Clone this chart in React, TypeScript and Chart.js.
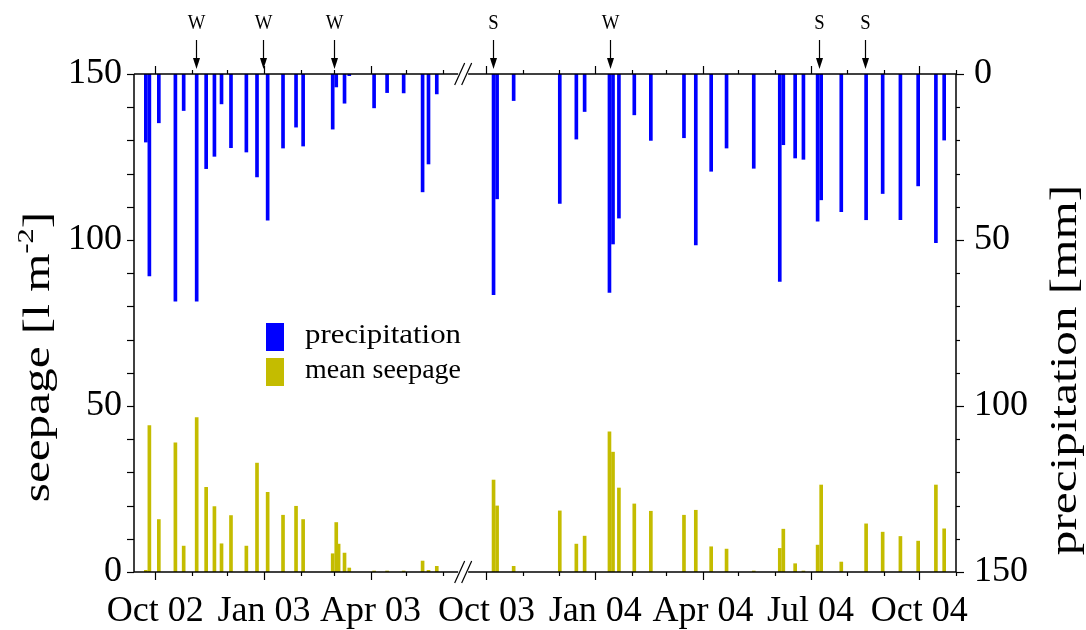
import React, { useEffect, useRef } from 'react';
import { Chart, registerables } from 'chart.js';

Chart.register(...registerables);

// Rain events: date, precipitation [mm] and mean seepage [l m-2]
const eventDates = [
  '2002-09-23', '2002-09-26', '2002-10-04', '2002-10-18', '2002-10-25', '2002-11-05',
  '2002-11-13', '2002-11-20', '2002-11-26', '2002-12-04', '2002-12-17', '2002-12-26',
  '2003-01-04', '2003-01-17', '2003-01-28', '2003-02-03', '2003-02-28', '2003-03-03',
  '2003-03-05', '2003-03-10', '2003-03-14', '2003-04-04', '2003-04-15', '2003-04-29',
  '2003-05-15', '2003-05-20', '2003-05-27',
  '2003-10-07', '2003-10-10', '2003-10-24', '2003-12-02', '2003-12-16', '2003-12-23',
  '2004-01-13', '2004-01-16', '2004-01-21', '2004-02-03', '2004-02-17', '2004-03-16',
  '2004-03-26', '2004-04-08', '2004-04-21', '2004-05-14', '2004-06-05', '2004-06-08',
  '2004-06-18', '2004-06-25', '2004-07-07', '2004-07-10', '2004-07-27', '2004-08-17',
  '2004-08-31', '2004-09-15', '2004-09-30', '2004-10-15', '2004-10-22',
];

const precipitation: (number | null)[] = [
  20.5, 60.8, 14.7, 68.4, 11.0, 68.4,
  28.5, 24.8, 9.0, 22.2, 23.5, 31.0,
  44.0, 22.3, 16.0, 21.7, 16.6, 3.9,
  null, 8.8, 0.5, 10.2, 5.6, 5.7,
  35.5, 27.1, 6.0,
  66.5, 37.6, 8.0, 39.0, 19.6, 11.3,
  65.8, 51.2, 43.4, 12.3, 20.0, 19.2,
  51.5, 29.3, 22.3, 28.4, 62.5, 21.3,
  25.3, 25.7, 44.3, 37.9, 41.5, 43.9,
  36.0, 43.9, 33.7, 50.8, 19.9,
];

const seepage: number[] = [
  0.5, 44.1, 15.8, 38.9, 7.8, 46.5,
  25.5, 19.7, 8.5, 17.0, 7.8, 32.8,
  24.0, 17.1, 19.8, 15.8, 5.5, 14.9,
  8.4, 5.7, 1.2, 0.3, 0.3, 0.3,
  3.3, 0.5, 1.7,
  27.7, 19.9, 1.7, 18.4, 8.4, 10.8,
  42.2, 36.1, 25.3, 20.5, 18.3, 17.1,
  18.6, 7.6, 6.9, 0.3, 7.1, 12.9,
  2.5, 0.3, 8.1, 26.2, 3.0, 14.5,
  12.0, 10.7, 9.3, 26.2, 13.0,
];

// Labelled months on the time axis
const labelDates = ['2002-10-01', '2003-01-01', '2003-04-01', '2003-10-01', '2004-01-01', '2004-04-01', '2004-07-01', '2004-10-01'];
const labelTexts = ['Oct 02', 'Jan 03', 'Apr 03', 'Oct 03', 'Jan 04', 'Apr 04', 'Jul 04', 'Oct 04'];

// Marked events (W = winter, S = summer)
const markerDates = ['2002-11-05', '2003-01-01', '2003-03-02', '2003-10-07', '2004-01-14', '2004-07-09', '2004-08-17'];
const markerTexts = ['W', 'W', 'W', 'S', 'W', 'S', 'S'];

const valueTicks = [0, 50, 100, 150];

const BLUE = '#0000ff';
const OLIVE = '#c4bc00';
const FONT = "'Liberation Serif', 'Times New Roman', serif";

// Time axis: days since the start, with the summer of 2003 cut out
const ORIGIN = Date.UTC(2002, 8, 13);
const DAY = 86400000;
const BREAK_AT = 280;
const BREAK_SKIP = 85;
const AXIS_END = '2004-11-01';

function dayNumber(s: string): number {
  const [y, m, d] = s.split('-').map(Number);
  return Math.round((Date.UTC(y, m - 1, d) - ORIGIN) / DAY);
}

function inGap(n: number): boolean {
  return n > BREAK_AT && n < BREAK_AT + BREAK_SKIP;
}

function axisPos(s: string): number {
  const n = dayNumber(s);
  if (n <= BREAK_AT) return n;
  if (inGap(n)) return BREAK_AT;
  return n - BREAK_SKIP;
}

function monthStarts(): { pos: number; major: boolean }[] {
  const out: { pos: number; major: boolean }[] = [];
  let y = 2002;
  let m = 10;
  while (y < 2004 || (y === 2004 && m <= 11)) {
    const s = `${y}-${String(m).padStart(2, '0')}-01`;
    const n = dayNumber(s);
    if (!inGap(n)) out.push({ pos: axisPos(s), major: (m - 1) % 3 === 0 });
    m += 1;
    if (m > 12) { m = 1; y += 1; }
  }
  return out;
}

// text scaled along its own direction
function wideText(ctx: CanvasRenderingContext2D, text: string, x: number, y: number, sx: number) {
  ctx.save();
  ctx.translate(x, y);
  ctx.scale(sx, 1);
  ctx.fillText(text, 0, 0);
  ctx.restore();
}

const framePlugin = {
  id: 'frame',
  afterDraw(chart: any) {
    const { ctx, chartArea: a, scales } = chart;
    const x = scales.x;
    const yL = scales.y;
    const yR = scales.y1;
    const line = (x1: number, y1: number, x2: number, y2: number) => {
      ctx.beginPath();
      ctx.moveTo(x1, y1);
      ctx.lineTo(x2, y2);
      ctx.stroke();
    };
    ctx.save();
    ctx.strokeStyle = '#000';
    ctx.fillStyle = '#000';

    // frame with a cut in the time axis
    ctx.lineWidth = 1.5;
    const bx = x.getPixelForValue(BREAK_AT) - 2;
    for (const yy of [a.top, a.bottom]) {
      line(a.left, yy, bx - 5, yy);
      line(bx + 5, yy, a.right, yy);
    }
    line(a.left, a.top, a.left, a.bottom);
    line(a.right, a.top, a.right, a.bottom);
    ctx.lineWidth = 1.2;
    for (const yy of [a.top, a.bottom]) {
      for (const off of [-3.5, 3.5]) line(bx + off - 5, yy + 11, bx + off + 5, yy - 11);
    }

    // month ticks, outwards on top and bottom
    ctx.lineWidth = 1.2;
    for (const t of monthStarts()) {
      const px = Math.round(x.getPixelForValue(t.pos)) + 0.5;
      const len = t.major ? 8 : 4;
      line(px, a.bottom, px, a.bottom + len);
      line(px, a.top, px, a.top - len);
    }

    // value ticks every 10 units
    for (let v = 0; v <= 150; v += 10) {
      const pl = Math.round(yL.getPixelForValue(v)) + 0.5;
      line(a.left - 7, pl, a.left, pl);
      const pr = Math.round(yR.getPixelForValue(v)) + 0.5;
      line(a.right, pr, a.right + (v % 50 === 0 ? 8 : 4), pr);
    }

    // event markers above the plot
    ctx.font = `22px ${FONT}`;
    ctx.textAlign = 'center';
    ctx.textBaseline = 'middle';
    markerDates.forEach((d, i) => {
      const px = Math.round(x.getPixelForValue(axisPos(d))) - 0.5;
      wideText(ctx, markerTexts[i], px, 23, 0.85);
      ctx.lineWidth = 1.2;
      line(px, 40, px, 60);
      ctx.beginPath();
      ctx.moveTo(px - 3.5, 58);
      ctx.lineTo(px + 3.5, 58);
      ctx.lineTo(px, 69);
      ctx.closePath();
      ctx.fill();
    });

    // legend
    const items = chart.data.datasets;
    ctx.font = `27px ${FONT}`;
    ctx.textAlign = 'left';
    ctx.textBaseline = 'middle';
    items.forEach((ds: any, i: number) => {
      const top = 323 + i * 35;
      ctx.fillStyle = ds.backgroundColor;
      ctx.fillRect(266, top, 18, 28);
      ctx.fillStyle = '#000';
      const w = ctx.measureText(ds.label).width;
      wideText(ctx, ds.label, 305, top + 13, 156 / w);
    });

    // axis titles
    const titleSize = 37;
    const stretch = 1.33;
    ctx.textBaseline = 'middle';
    ctx.textAlign = 'left';
    // left: seepage [l m-2]
    ctx.save();
    ctx.translate(39, 357);
    ctx.rotate(-Math.PI / 2);
    ctx.scale(stretch, 1);
    const part1 = 'seepage [l m';
    const sup = '-2';
    const part3 = ']';
    ctx.font = `${titleSize}px ${FONT}`;
    const w1 = ctx.measureText(part1).width;
    ctx.font = `${titleSize * 0.62}px ${FONT}`;
    const w2 = ctx.measureText(sup).width;
    ctx.font = `${titleSize}px ${FONT}`;
    const w3 = ctx.measureText(part3).width;
    let sx = -(w1 + w2 + w3) / 2;
    ctx.fillText(part1, sx, 0);
    sx += w1;
    ctx.font = `${titleSize * 0.62}px ${FONT}`;
    ctx.fillText(sup, sx, -titleSize * 0.32);
    sx += w2;
    ctx.font = `${titleSize}px ${FONT}`;
    ctx.fillText(part3, sx, 0);
    ctx.restore();
    // right: precipitation [mm]
    ctx.save();
    ctx.translate(1066, 370);
    ctx.rotate(-Math.PI / 2);
    ctx.scale(stretch, 1);
    ctx.font = `${titleSize}px ${FONT}`;
    ctx.textAlign = 'center';
    ctx.fillText('precipitation [mm]', 0, 0);
    ctx.restore();

    ctx.restore();
  },
};

export default function App() {
  const ref = useRef<HTMLCanvasElement | null>(null);

  useEffect(() => {
    document.body.style.margin = '0';
    if (!ref.current) return;
    const tickFont = { family: FONT, size: 36 };
    const chart = new Chart(ref.current, {
      type: 'bar',
      data: {
        datasets: [
          {
            label: 'precipitation',
            data: eventDates.map((d, i) => ({ x: axisPos(d), y: precipitation[i] })) as any,
            backgroundColor: BLUE,
            yAxisID: 'y1',
            barThickness: 3,
            grouped: false,
          },
          {
            label: 'mean seepage',
            data: eventDates.map((d, i) => ({ x: axisPos(d), y: seepage[i] })) as any,
            backgroundColor: OLIVE,
            yAxisID: 'y',
            barThickness: 3,
            grouped: false,
          },
        ],
      },
      options: {
        responsive: false,
        animation: false,
        layout: { padding: { top: 74, left: 0, right: 0, bottom: 0 } },
        plugins: { legend: { display: false }, tooltip: { enabled: false } },
        scales: {
          x: {
            type: 'linear',
            min: 0,
            max: axisPos(AXIS_END),
            offset: false,
            grid: { display: false, drawTicks: false },
            border: { display: false },
            afterBuildTicks: (s: any) => {
              s.ticks = labelDates.map((d) => ({ value: axisPos(d) }));
            },
            afterFit: (s: any) => { s.height = 58; },
            ticks: {
              autoSkip: false,
              maxRotation: 0,
              padding: 18,
              color: '#000',
              font: tickFont,
              callback: (_v: any, i: number) => labelTexts[i],
            },
          },
          y: {
            position: 'left',
            min: 0,
            max: 150,
            grid: { display: false, drawTicks: false },
            border: { display: false },
            afterBuildTicks: (s: any) => { s.ticks = valueTicks.map((v) => ({ value: v })); },
            afterFit: (s: any) => { s.width = 134; },
            ticks: { padding: 12, color: '#000', font: tickFont },
          },
          y1: {
            position: 'right',
            reverse: true,
            min: 0,
            max: 150,
            grid: { display: false, drawTicks: false },
            border: { display: false },
            afterBuildTicks: (s: any) => { s.ticks = valueTicks.map((v) => ({ value: v })); },
            afterFit: (s: any) => { s.width = 130; },
            ticks: { padding: 18, color: '#000', font: tickFont },
          },
        },
      },
      plugins: [framePlugin],
    });
    return () => chart.destroy();
  }, []);

  return (
    <div style={{ position: 'absolute', left: 0, top: 0, width: 1086, height: 630, background: '#fff' }}>
      <canvas ref={ref} width={1086} height={630} />
    </div>
  );
}
